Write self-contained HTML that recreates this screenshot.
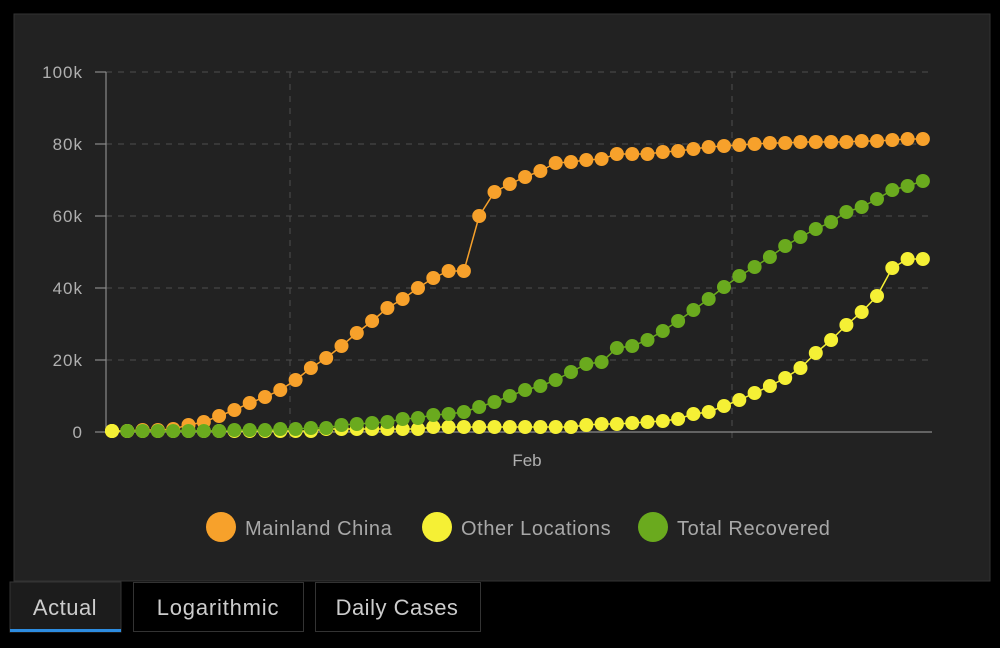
<!DOCTYPE html>
<html><head><meta charset="utf-8"><style>
body{margin:0;background:#000;width:1000px;height:643px;overflow:hidden;font-family:"Liberation Sans",sans-serif}
</style></head><body>
<svg width="1000" height="643" viewBox="0 0 1000 643" xmlns="http://www.w3.org/2000/svg" font-family="Liberation Sans, sans-serif">
<rect x="0" y="0" width="1000" height="643" fill="#000"/>
<rect x="14" y="14" width="976" height="567" fill="#222" stroke="#333"/>
<g stroke="#4e4e4e" stroke-dasharray="6,6" stroke-width="1">
<line x1="106" y1="72" x2="932" y2="72"/><line x1="106" y1="144" x2="932" y2="144"/>
<line x1="106" y1="216" x2="932" y2="216"/><line x1="106" y1="288" x2="932" y2="288"/>
<line x1="106" y1="360" x2="932" y2="360"/>
<line x1="290" y1="72" x2="290" y2="440"/><line x1="732" y1="72" x2="732" y2="440"/>
</g>
<g stroke="#8a8a8a" stroke-width="1.2">
<line x1="106" y1="72" x2="106" y2="432"/><line x1="106" y1="432" x2="932" y2="432"/>
<line x1="95" y1="72" x2="106" y2="72"/><line x1="95" y1="144" x2="106" y2="144"/><line x1="95" y1="216" x2="106" y2="216"/><line x1="95" y1="288" x2="106" y2="288"/><line x1="95" y1="360" x2="106" y2="360"/><line x1="95" y1="432" x2="106" y2="432"/>
</g>
<g fill="#b0b0b0" font-size="17" text-anchor="end" letter-spacing="1">
<text x="83" y="78">100k</text><text x="83" y="150">80k</text><text x="83" y="222">60k</text><text x="83" y="294">40k</text><text x="83" y="366">20k</text><text x="83" y="438">0</text>
</g>
<text x="527" y="466" fill="#b0b0b0" font-size="17" text-anchor="middle">Feb</text>
<g id="series"></g>
<circle cx="221" cy="527" r="15" fill="#f7a12b"/><text x="245" y="535" fill="#a8a8a8" font-size="20" letter-spacing="0.6">Mainland China</text>
<circle cx="437" cy="527" r="15" fill="#f5f035"/><text x="461" y="535" fill="#a8a8a8" font-size="20" letter-spacing="0.6">Other Locations</text>
<circle cx="653" cy="527" r="15" fill="#6aaa1e"/><text x="677" y="535" fill="#a8a8a8" font-size="20" letter-spacing="0.6">Total Recovered</text>
<rect x="10" y="582" width="111" height="50" fill="#1c1c1c" stroke="#333"/>
<rect x="10" y="629" width="111" height="3" fill="#2d8ce0"/>
<text x="65" y="615" fill="#ccc" font-size="22" text-anchor="middle" letter-spacing="0.5">Actual</text>
<rect x="133.5" y="582.5" width="170" height="49" fill="#000" stroke="#333"/>
<text x="218" y="615" fill="#ccc" font-size="22" text-anchor="middle" letter-spacing="0.8">Logarithmic</text>
<rect x="315.5" y="582.5" width="165" height="49" fill="#000" stroke="#333"/>
<text x="397" y="615" fill="#ccc" font-size="22" text-anchor="middle" letter-spacing="0.5">Daily Cases</text>
</svg>
<script>
var O=[431,431,430,430,429,425,422,416,410,403,397,390,380,368,358,346,333,321,308,299,288,278,271,271,216,192,184,177,171,163,162,160,159,154,154,154,152,151,149,147,146,145,144,143,143,142,142,142,142,141,141,140,139,139];
var Y=[];for(var i=0;i<14;i++)Y.push(431);for(i=14;i<21;i++)Y.push(429);for(i=21;i<31;i++)Y.push(427);
Y=Y.concat([425,424,424,423,422,421,419,414,412,406,400,393,386,378,368,353,340,325,312,296,268,259,259]);
var G=[431,431,431,431,431,431,431,431,430,430,430,429,429,428,428,425,424,423,422,419,418,415,414,412,407,402,396,390,386,380,372,364,362,348,346,340,331,321,310,299,287,276,267,257,246,237,229,222,212,207,199,190,186,181];
var ns="http://www.w3.org/2000/svg",g=document.getElementById("series");
function draw(a,c,start){var p="";for(var i=start;i<a.length;i++){p+=(i==start?"M":"L")+(112+i*15.3)+","+a[i];}
var l=document.createElementNS(ns,"path");l.setAttribute("d",p);l.setAttribute("stroke",c);l.setAttribute("stroke-width","1.5");l.setAttribute("fill","none");g.appendChild(l);
for(i=start;i<a.length;i++){var c1=document.createElementNS(ns,"circle");c1.setAttribute("cx",112+i*15.3);c1.setAttribute("cy",a[i]);c1.setAttribute("r","7");c1.setAttribute("fill",c);g.appendChild(c1);}}
draw(O,"#f7a12b",0);draw(Y,"#f5f035",0);draw(G,"#6aaa1e",1);
var c0=document.createElementNS(ns,"circle");c0.setAttribute("cx",112);c0.setAttribute("cy",431);c0.setAttribute("r","7");c0.setAttribute("fill","#f5f035");g.appendChild(c0);
</script>
</body></html>
